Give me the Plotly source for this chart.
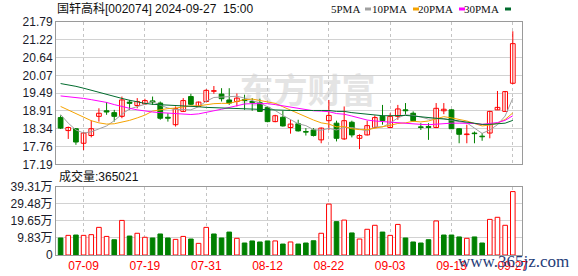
import plotly.graph_objects as go

dates = ["07-04", "07-05", "07-08", "07-09", "07-10", "07-11", "07-12", "07-15", "07-16", "07-17",
         "07-18", "07-19", "07-22", "07-23", "07-24", "07-25", "07-26", "07-29", "07-30", "07-31",
         "08-01", "08-02", "08-05", "08-06", "08-07", "08-08", "08-09", "08-12", "08-13", "08-14",
         "08-15", "08-16", "08-19", "08-20", "08-21", "08-22", "08-23", "08-26", "08-27", "08-28",
         "08-29", "08-30", "09-02", "09-03", "09-04", "09-05", "09-06", "09-09", "09-10", "09-11",
         "09-12", "09-13", "09-18", "09-19", "09-20", "09-23", "09-24", "09-25", "09-26", "09-27"]

open_ = [18.70, 18.28, 18.34, 17.87, 18.12, 18.74, 18.92, 18.86, 18.74, 19.20,
         19.09, 19.14, 19.24, 19.17, 18.71, 18.47, 18.90, 19.38, 19.06, 19.22,
         19.55, 19.46, 19.27, 19.22, 19.28, 19.22, 19.18, 19.03, 18.57, 18.71,
         18.38, 18.50, 18.25, 18.30, 17.98, 18.60, 18.52, 18.01, 18.55, 18.03,
         18.14, 18.38, 18.74, 18.38, 18.74, 18.95, 18.84, 18.40, 18.41, 18.38,
         18.92, 18.95, 18.34, 18.15, 18.20, 18.10, 18.20, 18.95, 18.90, 19.81]
high = [18.77, 18.41, 18.36, 18.22, 18.61, 19.00, 19.20, 18.95, 19.38, 19.27,
        19.33, 19.31, 19.38, 19.22, 18.84, 19.06, 19.33, 19.47, 19.22, 19.62,
        19.72, 19.65, 19.65, 19.48, 19.44, 19.33, 19.31, 19.06, 18.79, 18.92,
        18.63, 18.63, 18.36, 18.36, 18.38, 19.27, 18.60, 19.06, 18.60, 18.16,
        18.60, 18.77, 19.11, 18.84, 19.11, 19.17, 18.90, 18.52, 18.52, 19.17,
        19.17, 18.97, 18.36, 18.47, 18.25, 18.20, 18.92, 19.56, 19.56, 21.49]
low = [18.33, 18.01, 17.82, 17.65, 18.06, 18.57, 18.79, 18.57, 18.68, 18.95,
       19.00, 19.11, 19.11, 18.63, 18.57, 18.41, 18.88, 19.11, 19.04, 19.20,
       19.47, 19.22, 19.11, 19.06, 18.95, 18.92, 18.88, 18.55, 18.55, 18.41,
       18.18, 18.25, 18.12, 18.09, 17.87, 18.30, 17.93, 17.98, 18.06, 17.68,
       18.12, 18.36, 18.47, 18.36, 18.63, 18.79, 18.57, 18.30, 17.98, 18.36,
       18.81, 18.33, 17.87, 17.87, 17.87, 17.95, 18.03, 18.95, 18.90, 19.78]
close = [18.36, 18.38, 17.91, 18.20, 18.34, 18.84, 18.88, 18.74, 19.27, 19.16,
         19.22, 19.25, 19.20, 18.68, 18.68, 18.99, 19.25, 19.13, 19.20, 19.58,
         19.57, 19.31, 19.17, 19.33, 19.25, 19.19, 18.90, 18.57, 18.76, 18.43,
         18.49, 18.27, 18.23, 18.12, 18.36, 18.77, 18.03, 18.60, 18.14, 18.12,
         18.44, 18.70, 18.60, 18.74, 18.98, 18.92, 18.60, 18.38, 18.38, 19.00,
         18.97, 18.34, 18.16, 18.17, 18.18, 18.08, 18.90, 19.03, 19.54, 21.09]

ma5 = [18.80, 18.52, 18.30, 18.20, 18.24, 18.33, 18.43, 18.60, 18.81, 18.98,
       19.05, 19.13, 19.22, 19.10, 19.01, 18.96, 18.96, 18.95, 19.05, 19.23,
       19.35, 19.36, 19.37, 19.39, 19.33, 19.25, 19.17, 19.05, 18.93, 18.77,
       18.63, 18.50, 18.44, 18.31, 18.29, 18.35, 18.30, 18.38, 18.38, 18.33,
       18.27, 18.40, 18.40, 18.52, 18.69, 18.79, 18.77, 18.72, 18.65, 18.66,
       18.67, 18.61, 18.57, 18.53, 18.36, 18.19, 18.30, 18.47, 18.75, 19.33]
ma10 = [19.06, 18.94, 18.82, 18.70, 18.60, 18.53, 18.49, 18.50, 18.55, 18.61,
        18.69, 18.78, 18.91, 18.96, 18.99, 19.01, 19.04, 19.08, 19.08, 19.12,
        19.15, 19.16, 19.16, 19.22, 19.28, 19.30, 19.26, 19.21, 19.16, 19.05,
        18.94, 18.84, 18.74, 18.62, 18.53, 18.49, 18.40, 18.41, 18.34, 18.31,
        18.31, 18.35, 18.39, 18.45, 18.51, 18.53, 18.58, 18.56, 18.59, 18.67,
        18.73, 18.69, 18.65, 18.59, 18.51, 18.43, 18.46, 18.52, 18.64, 18.85]
ma20 = [19.40, 19.38, 19.35, 19.32, 19.28, 19.24, 19.19, 19.12, 19.05, 19.00,
        18.95, 18.91, 18.88, 18.86, 18.84, 18.82, 18.80, 18.80, 18.82, 18.86,
        18.92, 18.97, 19.03, 19.09, 19.14, 19.15, 19.15, 19.15, 19.12, 19.08,
        19.05, 19.00, 18.95, 18.92, 18.91, 18.89, 18.83, 18.81, 18.75, 18.68,
        18.62, 18.59, 18.57, 18.54, 18.52, 18.51, 18.49, 18.48, 18.47, 18.49,
        18.52, 18.52, 18.52, 18.52, 18.51, 18.48, 18.52, 18.54, 18.61, 18.76]
ma30 = [19.80, 19.76, 19.71, 19.65, 19.58, 19.52, 19.45, 19.38, 19.32, 19.26,
        19.20, 19.16, 19.13, 19.12, 19.11, 19.10, 19.09, 19.07, 19.05, 19.03,
        19.02, 19.01, 19.00, 18.99, 18.98, 18.97, 18.96, 18.95, 18.93, 18.92,
        18.93, 18.93, 18.94, 18.93, 18.93, 18.93, 18.90, 18.90, 18.86, 18.83,
        18.80, 18.78, 18.76, 18.76, 18.77, 18.77, 18.75, 18.73, 18.70, 18.68,
        18.66, 18.63, 18.59, 18.55, 18.52, 18.48, 18.48, 18.50, 18.52, 18.61]

volume = [9.8, 11.3, 11.5, 11.3, 11.7, 15.9, 10.7, 8.8, 19.9, 10.9,
          12.5, 10.2, 9.8, 12.1, 9.8, 9.0, 10.7, 9.2, 6.7, 15.9,
          12.1, 9.8, 13.2, 9.6, 6.9, 8.1, 7.5, 8.1, 8.1, 6.3,
          7.5, 6.3, 6.9, 8.2, 12.5, 29.3, 19.2, 20.1, 12.7, 9.2,
          14.8, 17.1, 13.2, 11.3, 17.6, 9.8, 7.5, 6.9, 8.8, 19.6,
          11.5, 11.5, 10.4, 9.6, 10.4, 6.9, 20.5, 21.7, 17.1, 36.5021]
vol_up = [0, 1, 0, 1, 1, 1, 1, 0, 1, 0,
          1, 1, 0, 0, 0, 1, 1, 0, 1, 1,
          0, 0, 0, 1, 0, 0, 0, 0, 1, 0,
          1, 0, 0, 0, 1, 1, 0, 1, 0, 1,
          1, 1, 0, 1, 1, 0, 0, 0, 0, 1,
          0, 0, 0, 1, 0, 0, 1, 1, 1, 1]

tick_dates = ["07-09", "07-19", "07-31", "08-12", "08-22", "09-03", "09-13", "09-27"]
price_ticks = [21.79, 21.215, 20.64, 20.065, 19.49, 18.915, 18.34, 17.765, 17.19]
price_labels = ["21.79", "21.22", "20.64", "20.07", "19.49", "18.91", "18.34", "17.76", "17.19"]
vol_ticks = [0, 9.8275, 19.655, 29.4825, 39.31]
vol_labels = ["0", "9.83万", "19.65万", "29.48万", "39.31万"]
last_volume_text = "成交量:365021"
title_text = "国轩高科[002074] 2024-09-27\u00a0\u00a015:00"
ma_names = ["5PMA", "10PMA", "20PMA", "30PMA"]

RED = "#ff0000"
GREEN = "#008000"
MA_COLORS = ["#a0a0a0", "#f5a300", "#ff00ff", "#006b2d"]
FONT = "Liberation Sans, Arial, Noto Sans CJK SC, sans-serif"

W, H = 578, 276
L, R, T, B = 56, 56, 22, 21
PW, PH = W - L - R, H - T - B


def px(x):
    return (x - L) / PW


def py(y):
    return (H - B - y) / PH


up = [c >= o for o, c in zip(open_, close)]

fig = go.Figure()

# wicks
for flag, col in [(True, RED), (False, GREEN)]:
    xs, ys = [], []
    for d, h, l, u in zip(dates, high, low, up):
        if u == flag:
            xs += [d, d, None]
            ys += [l, h, None]
    fig.add_trace(go.Scatter(x=xs, y=ys, mode="lines", line=dict(color=col, width=1),
                             xaxis="x", yaxis="y", hoverinfo="skip"))

# bodies
body_base = [min(o, c) for o, c in zip(open_, close)]
body_h = [max(abs(c - o), 0.012) for o, c in zip(open_, close)]
fig.add_trace(go.Bar(
    x=dates, y=body_h, base=body_base, width=0.62, xaxis="x", yaxis="y",
    marker=dict(color=["#ffffff" if u else GREEN for u in up],
                line=dict(color=[RED if u else GREEN for u in up], width=1)),
    hoverinfo="skip"))

# moving averages
for vals, col in zip([ma5, ma10, ma20, ma30], MA_COLORS):
    fig.add_trace(go.Scatter(x=dates, y=vals, mode="lines", line=dict(color=col, width=1),
                             xaxis="x", yaxis="y", hoverinfo="skip"))

# volume
fig.add_trace(go.Bar(
    x=dates, y=volume, width=0.6, xaxis="x2", yaxis="y2",
    marker=dict(color=["#ffffff" if u else GREEN for u in vol_up],
                line=dict(color=[RED if u else GREEN for u in vol_up], width=1)),
    hoverinfo="skip"))

axis_common = dict(showline=True, mirror=True, linecolor="#9a9a9a", linewidth=1,
                   zeroline=False, ticks="", fixedrange=True, automargin=False)
xcommon = dict(type="category", categoryorder="array", categoryarray=dates,
               range=[-0.6, 60.2], tickvals=tick_dates, showgrid=True,
               gridcolor="#c4c4c4", griddash="3px,3px", gridwidth=1, **axis_common)

fig.update_layout(
    width=W, height=H, margin=dict(l=L, r=R, t=T, b=B, autoexpand=False),
    paper_bgcolor="white", plot_bgcolor="white", showlegend=False, barmode="overlay",
    font=dict(family=FONT, size=12, color="#111111"),
    xaxis=dict(domain=[0, 1], anchor="y", showticklabels=False, **xcommon),
    xaxis2=dict(domain=[0, 1], anchor="y2", matches="x", showticklabels=True,
                tickfont=dict(color=RED, size=12, family=FONT), **xcommon),
    yaxis=dict(domain=[py(164.3), 1], anchor="x", range=[17.19, 21.79],
               tickvals=price_ticks, ticktext=price_labels, showgrid=True,
               gridcolor="#d2d2d2", tickfont=dict(size=12, color="#1a1a2a", family=FONT),
               **axis_common),
    yaxis2=dict(domain=[0, py(186.7)], anchor="x2", range=[0, 39.31],
                tickvals=vol_ticks, ticktext=vol_labels, showgrid=True,
                gridcolor="#d2d2d2", tickfont=dict(size=12, color="#1a1a2a", family=FONT),
                **axis_common),
)

ann = []
ann.append(dict(text=title_text, x=px(55), y=py(9), xref="paper", yref="paper",
                xanchor="left", yanchor="middle", showarrow=False,
                font=dict(size=12, color="#111111", family=FONT)))
ann.append(dict(text=last_volume_text, x=px(57), y=py(176.7), xref="paper", yref="paper",
                xanchor="left", yanchor="middle", showarrow=False,
                font=dict(size=12, color="#111111", family=FONT)))
legend_text_right = [362, 409, 455, 501]
legend_dash_left = [365, 413, 459, 505]
shapes = []
for name, col, xr, xd in zip(ma_names, MA_COLORS, legend_text_right, legend_dash_left):
    ann.append(dict(text=name, x=px(xr), y=py(9), xref="paper", yref="paper",
                    xanchor="right", yanchor="middle", showarrow=False,
                    font=dict(size=11, color="#111111", family="Liberation Serif, serif")))
    shapes.append(dict(type="rect", xref="paper", yref="paper",
                       x0=px(xd), x1=px(xd + 6), y0=py(10.5), y1=py(7.5),
                       line=dict(width=0), fillcolor=col))
ann.append(dict(text="www.365jz.com", x=px(513), y=py(261), xref="paper", yref="paper",
                xanchor="center", yanchor="middle", showarrow=False,
                font=dict(size=17, color="#1f3c78", family="Liberation Serif, serif")))

wm = dict(type="rect", xref="paper", yref="paper", x0=px(225), x1=px(390),
          y0=py(112), y1=py(74), line=dict(width=0), fillcolor="rgba(0,0,0,0)",
          layer="below")
try:
    wm["label"] = dict(text="东方财富", textposition="middle center",
                       font=dict(size=34, color="#e4e4e4", family="Noto Sans CJK SC", weight="bold"))
    fig.add_shape(**wm)
except Exception:
    wm["label"] = dict(text="东方财富", textposition="middle center",
                       font=dict(size=34, color="#e4e4e4", family="Noto Sans CJK SC"))
    fig.add_shape(**wm)

for s in shapes:
    fig.add_shape(**s)
fig.update_layout(annotations=ann)

fig.write_html("out.html", config=dict(displayModeBar=False))
